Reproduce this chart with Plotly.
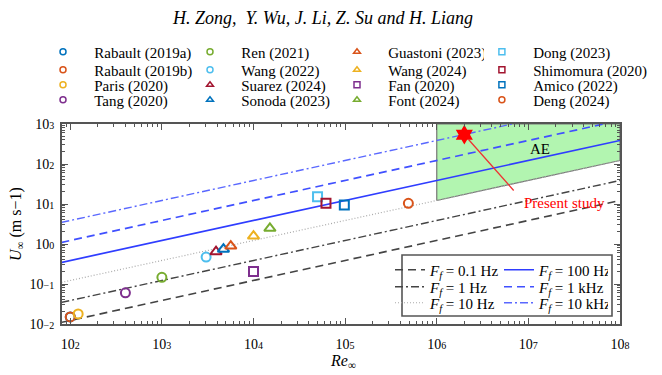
import plotly.graph_objects as go
import math

# ---------------- data ----------------
names = ["Rabault (2019a)", "Rabault (2019b)", "Paris (2020)", "Tang (2020)",
         "Ren (2021)", "Wang (2022)", "Suarez (2024)", "Sonoda (2023)",
         "Guastoni (2023)", "Wang (2024)", "Fan (2020)", "Font (2024)",
         "Dong (2023)", "Shimomura (2020)", "Amico (2022)", "Deng (2024)"]
re_vals = [100, 100, 122, 400,
           1000, 3040, 3900, 4700,
           5650, 10000, 10000, 15100,
           50000, 61800, 98000, 490000]
u_vals = [0.015, 0.015, 0.0178, 0.06,
          0.147, 0.47, 0.64, 0.74,
          0.89, 1.58, 0.204, 2.46,
          15.2, 10.4, 9.4, 10.4]
symbols = ["circle", "circle", "circle", "circle",
           "circle", "circle", "triangle-up", "triangle-up",
           "triangle-up", "triangle-up", "square", "triangle-up",
           "square", "square", "square", "circle"]
colors = ["#0072BD", "#D95319", "#EDB120", "#7E2F8E",
          "#77AC30", "#4DBEEE", "#A2142F", "#0072BD",
          "#D95319", "#EDB120", "#7E2F8E", "#77AC30",
          "#4DBEEE", "#A2142F", "#0072BD", "#D95319"]

# theoretical lines U = sqrt(nu * F_f * Re): endpoints
line_labels = ["0.1 Hz", "1 Hz", "10 Hz", "100 Hz", "1 kHz", "10 kHz"]
line_re = [80, 1e8]
line_u_start = [0.01095, 0.0346, 0.1095, 0.346, 1.095, 3.46]
line_u_end = [12.25, 38.7, 122.5, 387.0, 1225.0, 3873.0]

# AE region (bounded below by the 10 Hz line, Re >= 1e6)
ae_re = [1e6, 1e8, 1e8, 1e6, 1e6]
ae_u = [12.25, 122.5, 1000, 1000, 12.25]

# present study
present_re = [2.0e6]
present_u = [540]

# ---------------- styling ----------------
FONT = "Liberation Serif"
line_colors = ["#444444", "#444444", "#aaaaaa", "#2f3dff", "#4050ff", "#5a68ff"]
line_dash = ["8px,5px", "8px,3px,2px,3px", "1px,2px", "solid", "8px,5px", "8px,3px,2px,3px"]
line_width = [1.6, 1.4, 1.2, 1.7, 1.7, 1.4]

fig = go.Figure()

fig.add_trace(go.Scatter(x=ae_re, y=ae_u, mode="lines", fill="toself",
                         fillcolor="#b2f5b0", line=dict(color="#777777", width=1.2),
                         showlegend=False, hoverinfo="skip"))

# line legends: rows of two (legend5..legend7)
line_leg = ["legend5", "legend6", "legend7", "legend5", "legend6", "legend7"]
for i, lab in enumerate(line_labels):
    fig.add_trace(go.Scatter(
        x=line_re, y=[line_u_start[i], line_u_end[i]], mode="lines",
        line=dict(color=line_colors[i], dash=line_dash[i], width=line_width[i]),
        name="<i>F<sub>f</sub></i> = " + lab, legend=line_leg[i], showlegend=True))

# data points (no legend), then legend-only entries with small markers
for i in range(len(names)):
    fig.add_trace(go.Scatter(
        x=[re_vals[i]], y=[u_vals[i]], mode="markers",
        marker=dict(symbol=symbols[i] + "-open", size=10 if symbols[i] == "triangle-up" else 9,
                    color=colors[i], line=dict(width=2, color=colors[i])),
        showlegend=False, name=names[i]))

# legend layout: rows 1-4, columns 1-3 in legend..legend4, column 4 in legend8..legend11
row_legends = ["legend", "legend2", "legend3", "legend4"]
col4_legends = ["legend8", "legend9", "legend10", "legend11"]
order = []
for r in range(4):
    for c in range(4):
        order.append(c * 4 + r)
for idx in order:
    r = idx % 4
    c = idx // 4
    leg = col4_legends[r] if c == 3 else row_legends[r]
    fig.add_trace(go.Scatter(
        x=[None], y=[None], mode="markers",
        marker=dict(symbol=symbols[idx] + "-open", size=6, color=colors[idx],
                    line=dict(width=1.5, color=colors[idx])),
        name="&nbsp;&nbsp;&nbsp;" + names[idx], legend=leg, showlegend=True))

fig.add_trace(go.Scatter(x=present_re, y=present_u, mode="markers",
                         marker=dict(symbol="hexagram", size=15, color="#ff0000",
                                     line=dict(width=0)),
                         showlegend=False, name="Present study"))

# ---------------- layout ----------------
OFF = 8  # page body margin
W, H = 662, 375
PW, PH = 558, 200
L, T = 62 - OFF, 124 - OFF
R, B = W - L - PW, H - T - PH


def px(xp):
    return (xp - OFF - L) / PW


def py(yp):
    return (T + PH - (yp - OFF)) / PH


minor_x = [m * 10 ** d for d in range(1, 8) for m in range(2, 10)]
minor_y = [m * 10 ** d for d in range(-2, 3) for m in range(2, 10)]

sup = "<span style='font-size:10px'>%s</span>"
xt_vals = [1e2, 1e3, 1e4, 1e5, 1e6, 1e7, 1e8]
xt_text = ["10" + sup % e for e in ["2", "3", "4", "5", "6", "7", "8"]]
yt_vals = [1e-2, 1e-1, 1e0, 1e1, 1e2, 1e3]
yt_text = ["10" + sup % e for e in ["−2", "−1", "0", "1", "2", "3"]]

axis_common = dict(type="log", showgrid=False, zeroline=False, showline=True,
                   linecolor="#555555", linewidth=2, mirror="allticks",
                   ticks="inside", ticklen=6, tickwidth=1.3, tickcolor="#555555",
                   tickfont=dict(family=FONT, size=14, color="black"))

fig.update_xaxes(range=[1.91, 8.0], tickmode="array", tickvals=xt_vals, ticktext=xt_text,
                 minor=dict(tickmode="array", tickvals=minor_x, ticks="inside", ticklen=3,
                            tickcolor="#555555", tickwidth=1, showgrid=False),
                 ticklabelstandoff=6, **axis_common)
fig.update_yaxes(range=[-2.0, 3.0], tickmode="array", tickvals=yt_vals, ticktext=yt_text,
                 minor=dict(tickmode="array", tickvals=minor_y, ticks="inside", ticklen=3,
                            tickcolor="#555555", tickwidth=1, showgrid=False),
                 ticklabelstandoff=3, **axis_common)

legend_style = dict(orientation="h", bgcolor="rgba(0,0,0,0)", borderwidth=0,
                    font=dict(family=FONT, size=15, color="black"),
                    xanchor="left", yanchor="middle", itemsizing="trace")
top_rows_y = [52, 70, 85, 100]
col_step = 146.3
legends = {}
for r in range(4):
    legends[row_legends[r]] = dict(x=px(43), y=py(top_rows_y[r]), entrywidth=102,
                                   entrywidthmode="pixels", **legend_style)
    legends[col4_legends[r]] = dict(x=px(43 + 3 * col_step), y=py(top_rows_y[r]),
                                    **legend_style)
line_rows_y = [270, 287, 303]
for r in range(3):
    legends["legend%d" % (r + 5)] = dict(x=px(390), y=py(line_rows_y[r]), entrywidth=64,
                                         entrywidthmode="pixels", **legend_style)

fig.update_layout(
    width=W, height=H,
    margin=dict(l=L, r=R, t=T, b=B, autoexpand=False),
    paper_bgcolor="white", plot_bgcolor="white",
    font=dict(family=FONT, color="black"),
    **legends,
    shapes=[dict(type="rect", xref="paper", yref="paper",
                 x0=px(402), x1=px(612), y0=py(316), y1=py(255),
                 line=dict(color="#555555", width=1.6), fillcolor="white", layer="above")],
    annotations=[
        dict(text="<i>H. Zong,  Y. Wu, J. Li, Z. Su and H. Liang</i>", xref="paper", yref="paper",
             x=px(322), y=py(18), xanchor="center", yanchor="middle", showarrow=False,
             font=dict(family=FONT, size=18)),
        dict(text="<i>U</i><sub>∞</sub> (m s−1)", xref="paper", yref="paper",
             x=px(16), y=py(224), xanchor="center", yanchor="middle", textangle=-90,
             showarrow=False, font=dict(family=FONT, size=16)),
        dict(text="<i>Re</i><sub>∞</sub>", xref="paper", yref="paper",
             x=px(343), y=py(361), xanchor="center", yanchor="middle", showarrow=False,
             font=dict(family=FONT, size=16)),
        dict(text="AE", x=7.127, y=2.375, xref="x", yref="y", showarrow=False,
             font=dict(family=FONT, size=15, color="black")),
        dict(text="Present study", x=7.39, y=1.025, xref="x", yref="y", showarrow=False,
             font=dict(family=FONT, size=15, color="#ff0000")),
        dict(text="", x=math.log10(present_re[0]), y=math.log10(present_u[0]), xref="x", yref="y",
             ax=6.854, ay=1.30, axref="x", ayref="y", showarrow=True, arrowhead=0,
             arrowwidth=1.3, arrowcolor="#ee3333", standoff=6),
    ],
)

fig.write_html("out.html")
